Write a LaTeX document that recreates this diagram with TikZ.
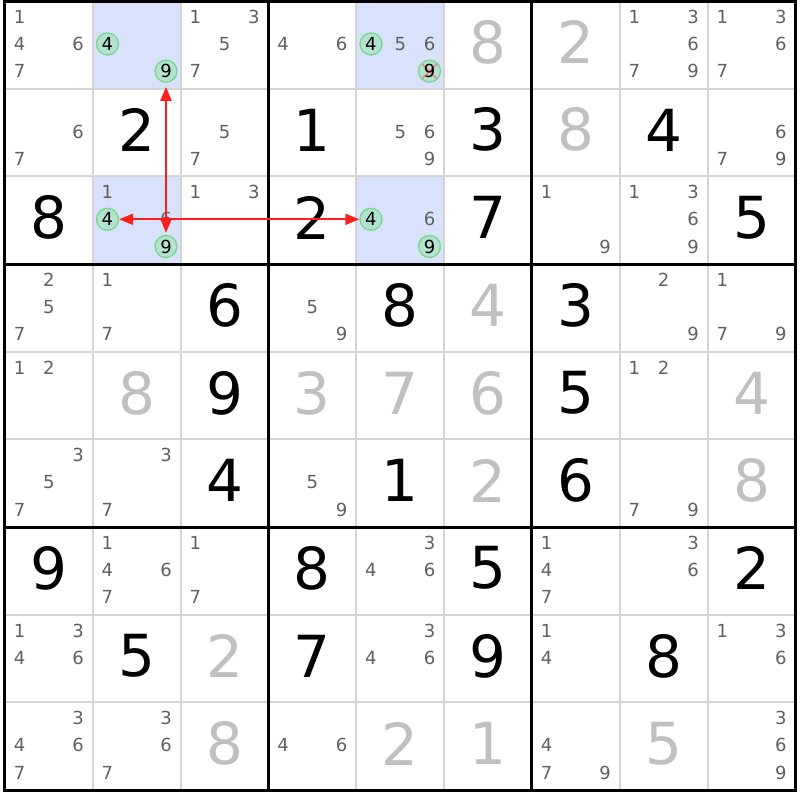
\documentclass[tikz,border=0pt]{standalone}
\usepackage{fontspec}
\setmainfont{DejaVu Sans}
\usetikzlibrary{arrows.meta, calc}
\definecolor{candgray}{RGB}{96,96,96}
\definecolor{solvedgray}{RGB}{192,192,192}
\definecolor{hiliteblue}{RGB}{217,226,251}
\definecolor{gridgray}{RGB}{212,212,212}
\definecolor{ringgreen}{RGB}{120,214,140}
\definecolor{ringfill}{RGB}{180,226,208}
\definecolor{arrowred}{RGB}{255,30,30}
\definecolor{xpink}{RGB}{240,130,130}

\begin{document}
\begin{tikzpicture}[x=87.83pt, y=-87.67pt,
    given/.style={font=\fontsize{58}{58}\selectfont, text=black, inner sep=0pt},
    solved/.style={given, text=solvedgray},
    cand/.style={font=\fontsize{18}{18}\selectfont, text=candgray, inner sep=0pt},
    pick/.style={cand, text=black, circle, draw=ringgreen, fill=ringfill, line width=1.3pt, minimum size=22pt},
    struck/.style={path picture={
        \draw[xpink, line width=1.6pt]
          ($(path picture bounding box.center)+(-7pt,-7pt)$) -- ($(path picture bounding box.center)+(7pt,7pt)$)
          ($(path picture bounding box.center)+(-7pt,7pt)$) -- ($(path picture bounding box.center)+(7pt,-7pt)$);}},
    chainarrow/.style={draw=arrowred, line width=2pt, {Triangle[length=14pt,width=11pt]}-{Triangle[length=14pt,width=11pt]}}]
    % Page
    \useasboundingbox (-0.0569,-0.0114) rectangle (9.0516,9.1138);
    \fill[white] (-0.0569,-0.0114) rectangle (9.0516,9.1138);

    % Highlighted cells
    \foreach \r/\c in {0/1, 0/4, 2/1, 2/4}
        \fill[hiliteblue] (\c,\r) rectangle ++(1,1);

    % Grid
    \foreach \i in {1,2,4,5,7,8} {
        \draw[gridgray, line width=2pt] (\i,0) -- (\i,9);
        \draw[gridgray, line width=2pt] (0,\i) -- (9,\i);
    }
    \foreach \i in {3,6} {
        \draw[line width=3pt] (\i,0) -- (\i,9);
        \draw[line width=3pt] (0,\i) -- (9,\i);
    }
    \draw[line width=3pt] (0,0) rectangle (9,9);

    % Given digits
    \foreach \r/\c/\d in {1/1/2, 1/3/1, 1/5/3, 1/7/4, 2/0/8, 2/3/2, 2/5/7, 2/8/5,
                          3/2/6, 3/4/8, 3/6/3, 4/2/9, 4/6/5, 5/2/4, 5/4/1, 5/6/6,
                          6/0/9, 6/3/8, 6/5/5, 6/8/2, 7/1/5, 7/3/7, 7/5/9, 7/7/8}
        \node[given] (g\r\c) at (\c+0.5,\r+0.47) {\d};

    % Solved digits
    \foreach \r/\c/\d in {0/5/8, 0/6/2, 1/6/8, 3/5/4, 4/1/8, 4/3/3, 4/4/7, 4/5/6,
                          4/8/4, 5/5/2, 5/8/8, 7/2/2, 8/2/8, 8/4/2, 8/5/1, 8/7/5}
        \node[solved] (s\r\c) at (\c+0.5,\r+0.47) {\d};

    % Candidates
    \foreach \r/\c/\ks in {0/0/{1,4,6,7}, 0/2/{1,3,5,7}, 0/3/{4,6}, 0/4/{5,6}, 0/7/{1,3,6,7,9}, 0/8/{1,3,6,7},
                           1/0/{6,7}, 1/2/{5,7}, 1/4/{5,6,9}, 1/8/{6,7,9},
                           2/1/{1,6}, 2/2/{1,3}, 2/4/{6}, 2/6/{1,9}, 2/7/{1,3,6,9},
                           3/0/{2,5,7}, 3/1/{1,7}, 3/3/{5,9}, 3/7/{2,9}, 3/8/{1,7,9},
                           4/0/{1,2}, 4/7/{1,2},
                           5/0/{3,5,7}, 5/1/{3,7}, 5/3/{5,9}, 5/7/{7,9},
                           6/1/{1,4,6,7}, 6/2/{1,7}, 6/4/{3,4,6}, 6/6/{1,4,7}, 6/7/{3,6},
                           7/0/{1,3,4,6}, 7/4/{3,4,6}, 7/6/{1,4}, 7/8/{1,3,6},
                           8/0/{3,4,6,7}, 8/1/{3,6,7}, 8/3/{4,6}, 8/6/{4,7,9}, 8/8/{3,6,9}}
        \foreach \k in \ks {
            \pgfmathtruncatemacro\kx{mod(\k-1,3)}
            \pgfmathtruncatemacro\ky{div(\k-1,3)}
            \node[cand] (n\r\c\k) at ({\c+(\kx+0.5)/3},{\r+0.18+0.31*\ky}) {\k};
        }

    % Picked candidates
    \node[pick] (n014) at (1.1667,0.49) {4};
    \node[pick] (n019) at (1.8333,0.80) {9};
    \node[pick] (n044) at (4.1667,0.49) {4};
    \node[pick, struck] (n049) at (4.8333,0.80) {9};
    \node[pick] (n214) at (1.1667,2.49) {4};
    \node[pick] (n219) at (1.8333,2.80) {9};
    \node[pick] (n244) at (4.1667,2.49) {4};
    \node[pick] (n249) at (4.8333,2.80) {9};

    % Links
    \draw[chainarrow] (n214) -- (n244);
    \draw[chainarrow, shorten <=4pt, shorten >=2pt] (n019) -- (n219);
\end{tikzpicture}
\end{document}
